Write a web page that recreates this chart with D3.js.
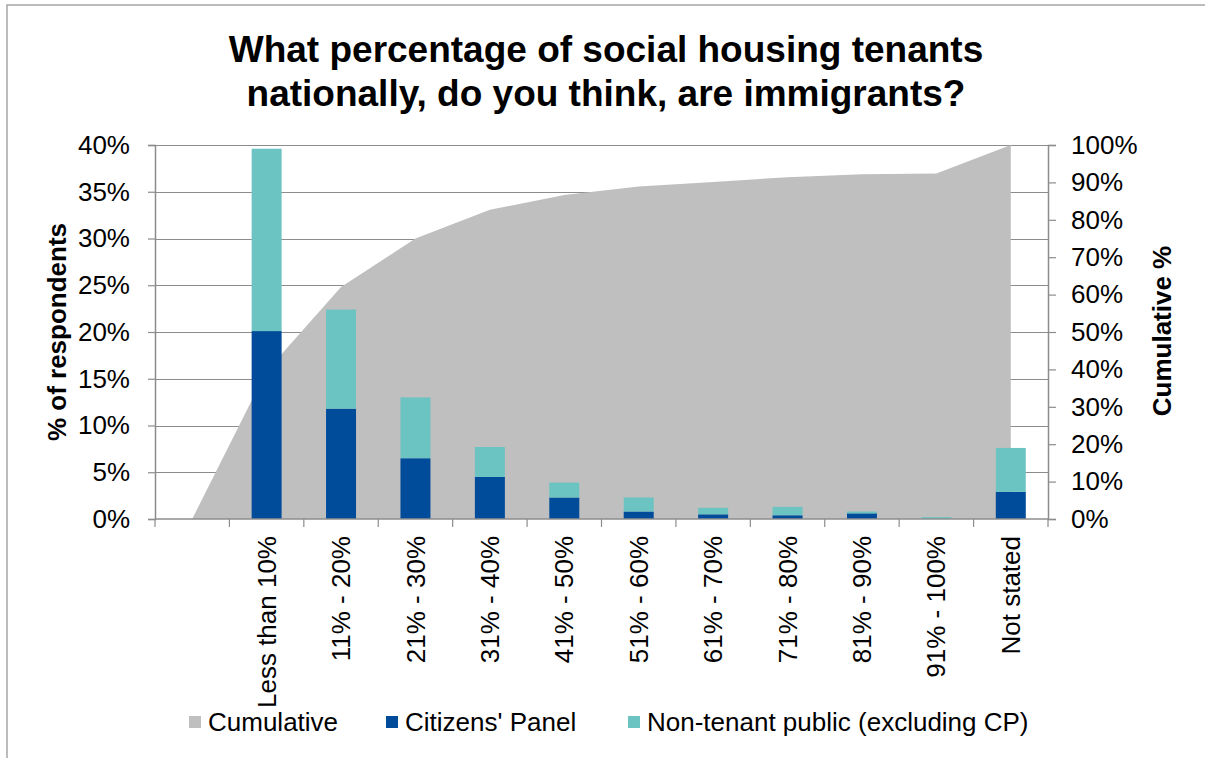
<!DOCTYPE html>
<html>
<head>
<meta charset="utf-8">
<script src="https://cdn.jsdelivr.net/npm/d3@7/dist/d3.min.js"></script>
<style>
  html, body { margin: 0; padding: 0; background: #fff; }
  svg { display: block; font-family: "Liberation Sans", Arial, sans-serif; }
</style>
</head>
<body>
<svg id="chart" width="1205" height="758"></svg>
<script>
// Response categories (first slot is an empty anchor for the cumulative area)
const categories = ["", "Less than 10%", "11% - 20%", "21% - 30%", "31% - 40%", "41% - 50%",
  "51% - 60%", "61% - 70%", "71% - 80%", "81% - 90%", "91% - 100%", "Not stated"];
// % of respondents
const citizensPanel = [null, 20.1, 11.8, 6.5, 4.5, 2.3, 0.8, 0.5, 0.4, 0.6, 0.0, 2.9];
const nonTenantPublic = [null, 19.5, 10.6, 6.5, 3.2, 1.6, 1.5, 0.7, 0.9, 0.2, 0.2, 4.7];
// Cumulative % (right axis)
const cumulative = [0, 39.6, 62.0, 75.0, 82.7, 86.6, 88.9, 90.1, 91.4, 92.2, 92.4, 100.0];
// Axis ticks
const leftTicks = [0, 5, 10, 15, 20, 25, 30, 35, 40];
const rightTicks = [0, 10, 20, 30, 40, 50, 60, 70, 80, 90, 100];
const titleLines = ["What percentage of social housing tenants", "nationally, do you think, are immigrants?"];
const legendItems = [
  { label: "Cumulative", color: "#bfbfbf" },
  { label: "Citizens' Panel", color: "#004c9b" },
  { label: "Non-tenant public (excluding CP)", color: "#6cc4c2" }
];

const svg = d3.select("#chart");
const plot = { left: 155, right: 1048, top: 145, bottom: 519 };
const axisColor = "#8c8c8c";

// outer frame
svg.append("path")
  .attr("d", "M7,758 V5 H1205")
  .attr("fill", "none").attr("stroke", "#a6a6a6").attr("stroke-width", 1.5);

// title
svg.append("g").selectAll("text").data(titleLines).join("text")
  .attr("x", 606).attr("y", (d, i) => 62 + i * 44)
  .attr("text-anchor", "middle")
  .attr("font-size", 37).attr("font-weight", "bold").attr("fill", "#000")
  .text(d => d);

const x = d3.scaleBand().domain(categories).range([plot.left, plot.right]).padding(0);
const yL = d3.scaleLinear().domain([0, 40]).range([plot.bottom, plot.top]);
const yR = d3.scaleLinear().domain([0, 100]).range([plot.bottom, plot.top]);
const bw = x.bandwidth();
const barW = bw * 0.403;

// gridlines
svg.append("g").selectAll("line").data(leftTicks.filter(t => t > 0)).join("line")
  .attr("x1", plot.left).attr("x2", plot.right)
  .attr("y1", d => Math.round(yL(d)) + 0.5).attr("y2", d => Math.round(yL(d)) + 0.5)
  .attr("stroke", axisColor).attr("stroke-width", 1);

// cumulative area
const area = d3.area()
  .x((d, i) => x(categories[i]) + bw / 2)
  .y0(yR(0))
  .y1(d => yR(d));
svg.append("path").datum(cumulative)
  .attr("d", area)
  .attr("fill", "#bfbfbf");

// stacked bars
const rows = categories.map((c, i) => ({ cat: c, cp: citizensPanel[i], nt: nonTenantPublic[i] }))
  .filter(d => d.cp !== null);
const stack = d3.stack().keys(["cp", "nt"]);
const series = stack(rows);
const colors = { cp: "#004c9b", nt: "#6cc4c2" };
svg.append("g").selectAll("g").data(series).join("g")
  .attr("fill", s => colors[s.key])
  .selectAll("rect").data(s => s).join("rect")
  .attr("x", d => x(d.data.cat) + (bw - barW) / 2)
  .attr("width", barW)
  .attr("y", d => yL(d[1]))
  .attr("height", d => Math.max(0, yL(d[0]) - yL(d[1])));

// left axis
const gL = svg.append("g").attr("transform", `translate(${plot.left},0)`)
  .call(d3.axisLeft(yL).tickValues(leftTicks).tickFormat(d => d + "%").tickSize(7).tickPadding(18));
// right axis
const gR = svg.append("g").attr("transform", `translate(${plot.right},0)`)
  .call(d3.axisRight(yR).tickValues(rightTicks).tickFormat(d => d + "%").tickSize(8).tickPadding(15));
[gL, gR].forEach(g => {
  g.select(".domain").attr("stroke", axisColor).attr("stroke-width", 1.5);
  g.selectAll(".tick line").attr("stroke", axisColor).attr("stroke-width", 1.2);
  g.selectAll(".tick text").attr("font-size", 26).attr("fill", "#000")
    .attr("font-family", "'Liberation Sans', Arial, sans-serif");
});

// bottom axis: line, ticks at category boundaries, rotated labels
const gB = svg.append("g");
gB.append("line")
  .attr("x1", plot.left).attr("x2", plot.right)
  .attr("y1", plot.bottom).attr("y2", plot.bottom)
  .attr("stroke", axisColor).attr("stroke-width", 1.5);
const bounds = categories.map(c => x(c)).concat([plot.right]);
gB.selectAll("line.tk").data(bounds).join("line").attr("class", "tk")
  .attr("x1", d => d).attr("x2", d => d)
  .attr("y1", plot.bottom).attr("y2", plot.bottom + 8)
  .attr("stroke", axisColor).attr("stroke-width", 1.2);
gB.selectAll("text").data(categories).join("text")
  .attr("transform", d => `translate(${x(d) + bw / 2},${plot.bottom + 17}) rotate(-90)`)
  .attr("text-anchor", "end").attr("dy", "0.35em")
  .attr("font-size", 26).attr("fill", "#000")
  .text(d => d);

// axis titles
svg.append("text")
  .attr("transform", "translate(57,332) rotate(-90)")
  .attr("text-anchor", "middle").attr("dy", "0.35em")
  .attr("font-size", 26).attr("font-weight", "bold").text("% of respondents");
svg.append("text")
  .attr("transform", "translate(1162,331) rotate(-90)")
  .attr("text-anchor", "middle").attr("dy", "0.35em")
  .attr("font-size", 26).attr("font-weight", "bold").text("Cumulative %");

// legend
const legendX = [189, 386, 628];
const lg = svg.append("g").selectAll("g").data(legendItems).join("g")
  .attr("transform", (d, i) => `translate(${legendX[i]},722)`);
lg.append("rect").attr("x", 0).attr("y", -6).attr("width", 12).attr("height", 12)
  .attr("fill", d => d.color);
lg.append("text").attr("x", 19).attr("dy", "0.35em")
  .attr("font-size", 26).attr("fill", "#000").text(d => d.label);
</script>
</body>
</html>
